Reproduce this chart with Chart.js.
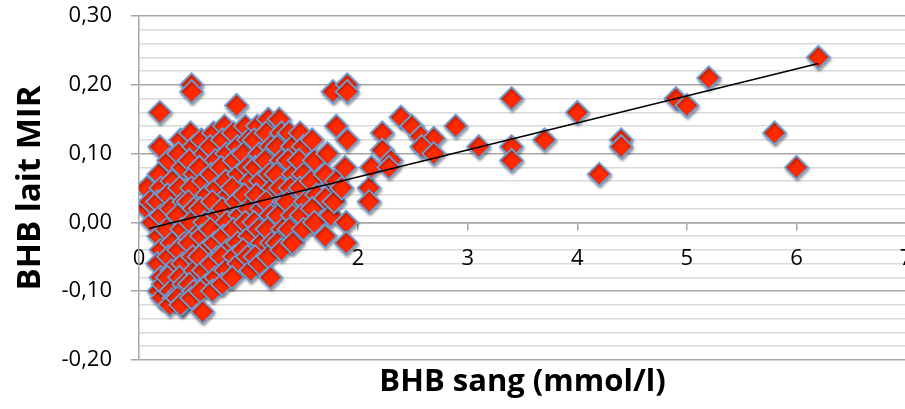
<!DOCTYPE html>
<html><head><meta charset="utf-8">
<script src="https://cdn.jsdelivr.net/npm/chart.js@4/dist/chart.umd.min.js"></script>
<style>html,body{margin:0;padding:0;overflow:hidden;background:#fff;width:905px;height:409px}canvas{display:block}</style>
</head><body>
<canvas id="c" width="930" height="409"></canvas>
<script>
// BHB sang (mmol/l) – x values
const bloodBHB = [
0.07,0.07,0.10,0.12,
0.19,0.19,0.18,0.20,0.17,0.20,0.18,0.20,0.17,0.20,0.18,0.21,0.22,
0.27,0.30,0.26,0.29,0.25,0.30,0.27,0.30,0.26,0.29,0.32,0.28,
0.38,0.36,0.40,0.37,0.41,0.35,0.39,0.42,0.36,0.40,0.37,0.41,0.35,0.40,0.38,
0.48,0.48,0.47,0.50,0.46,0.51,0.48,0.45,0.50,0.47,0.52,0.46,0.49,0.51,0.46,0.50,0.48,
0.57,0.60,0.55,0.59,0.62,0.56,0.60,0.57,0.61,0.55,0.59,0.62,0.56,0.58,
0.68,0.65,0.70,0.66,0.71,0.67,0.72,0.65,0.69,0.72,0.66,0.70,0.67,
0.78,0.76,0.80,0.75,0.79,0.82,0.76,0.80,0.77,0.81,0.75,0.79,0.76,
0.89,0.86,0.90,0.87,0.91,0.85,0.89,0.92,0.86,0.90,0.87,0.91,0.85,
0.97,1.00,0.95,0.99,1.02,0.96,1.00,0.97,1.01,0.95,0.99,1.02,
1.08,1.05,1.10,1.06,1.11,1.07,1.12,1.05,1.09,1.12,1.06,1.10,
1.18,1.16,1.20,1.15,1.19,1.22,1.16,1.20,1.17,1.21,1.18,1.20,
1.28,1.30,1.26,1.30,1.25,1.29,1.32,1.27,1.31,1.26,1.30,
1.37,1.40,1.36,1.41,1.38,1.35,1.40,1.37,1.40,
1.47,1.50,1.46,1.50,1.47,1.52,1.48,1.50,
1.58,1.60,1.57,1.62,1.58,1.60,
1.72,1.70,1.73,1.70,1.75,1.70,1.80,1.77,1.80,1.78,
1.90,1.90,1.90,1.88,1.89,1.89,1.85,
2.10,2.10,2.12,2.22,2.22,2.30,2.28,
2.39,2.49,2.57,2.69,2.58,2.69,2.89,3.10,3.40,3.40,3.40,3.70,4.00,4.20,4.40,4.40,4.90,5.00,5.20,5.80,6.00,6.20
];
// BHB lait MIR – y values
const milkBHB = [
0.05,0.02,0.03,0.00,
0.16,0.11,0.07,0.05,0.03,0.01,-0.02,-0.04,-0.06,-0.08,-0.10,-0.11,-0.09,
0.09,0.06,0.04,0.02,-0.01,-0.03,-0.05,-0.07,-0.08,-0.10,-0.11,-0.12,
0.12,0.10,0.08,0.05,0.03,0.01,-0.01,-0.03,-0.04,-0.06,-0.08,-0.09,-0.11,-0.12,-0.12,
0.20,0.19,0.13,0.11,0.09,0.07,0.05,0.03,0.02,0.00,-0.02,-0.03,-0.05,-0.07,-0.09,-0.10,-0.11,
0.12,0.10,0.08,0.06,0.04,0.02,0.00,-0.02,-0.04,-0.05,-0.07,-0.09,-0.10,-0.13,
0.13,0.11,0.09,0.07,0.05,0.03,0.01,-0.01,-0.03,-0.05,-0.06,-0.08,-0.10,
0.14,0.12,0.10,0.08,0.06,0.04,0.02,0.00,-0.02,-0.04,-0.05,-0.07,-0.09,
0.17,0.13,0.11,0.09,0.07,0.05,0.03,0.01,-0.01,-0.03,-0.05,-0.06,-0.08,
0.14,0.12,0.10,0.08,0.06,0.04,0.02,0.00,-0.02,-0.04,-0.05,-0.07,
0.14,0.12,0.10,0.08,0.06,0.04,0.02,0.00,-0.01,-0.03,-0.05,-0.06,
0.15,0.13,0.11,0.09,0.07,0.05,0.03,0.01,-0.01,-0.03,-0.05,-0.08,
0.15,0.13,0.11,0.09,0.07,0.05,0.03,0.01,-0.01,-0.03,-0.04,
0.13,0.11,0.09,0.07,0.05,0.03,0.01,-0.01,-0.03,
0.13,0.11,0.09,0.07,0.05,0.03,0.01,-0.01,
0.12,0.09,0.06,0.04,0.02,0.00,
0.10,0.07,0.04,0.035,0.01,-0.02,0.14,0.19,0.06,0.03,
0.20,0.19,0.12,0.08,0.00,-0.03,0.05,
0.05,0.03,0.08,0.13,0.105,0.09,0.08,
0.153,0.14,0.125,0.122,0.11,0.10,0.14,0.11,0.18,0.11,0.09,0.12,0.16,0.07,0.12,0.11,0.18,0.17,0.21,0.13,0.08,0.24
];
// Linear trend line end points
const trendX = [0.09, 6.2];
const trendY = [-0.009, 0.231];
// Axis tick labels
const xTickValues = [0, 1, 2, 3, 4, 5, 6, 7];
const xTickLabels = ['0', '1', '2', '3', '4', '5', '6', '7'];
const yTickValues = [-0.2, -0.1, 0, 0.1, 0.2, 0.3];
const yTickLabels = ['-0,20', '-0,10', '0,00', '0,10', '0,20', '0,30'];

const isMajorY = v => yTickValues.some(t => Math.abs(t - v) < 1e-6);
const majorColor = '#a6a6a6';
const minorColor = '#d9d9d9';

Chart.defaults.font.family = "'Open Sans', sans-serif";
Chart.defaults.color = '#000';

// soft drop shadow under the markers (Excel-like)
const markerShadow = {
  id: 'markerShadow',
  beforeDatasetDraw(chart, args) {
    if (args.index !== 1) return;
    const ctx = chart.ctx;
    ctx.save();
    ctx.shadowColor = 'rgba(0,0,0,0.35)';
    ctx.shadowBlur = 3;
    ctx.shadowOffsetX = 1;
    ctx.shadowOffsetY = 2;
  },
  afterDatasetDraw(chart, args) {
    if (args.index !== 1) return;
    chart.ctx.restore();
  }
};

new Chart(document.getElementById('c'), {
  type: 'scatter',
  plugins: [markerShadow],
  data: {
    datasets: [
      {
        type: 'line',
        data: trendX.map((x, i) => ({x, y: trendY[i]})),
        borderColor: '#000',
        borderWidth: 1.6,
        pointRadius: 0,
        fill: false,
        xAxisID: 'x', yAxisID: 'y'
      },
      {
        data: bloodBHB.map((x, i) => ({x, y: milkBHB[i]})),
        pointStyle: 'rectRot',
        pointRadius: 11.5,
        backgroundColor: '#ff2a00',
        borderColor: '#6e9ed6',
        borderWidth: 1.8,
        xAxisID: 'x', yAxisID: 'y'
      }
    ]
  },
  options: {
    responsive: false,
    devicePixelRatio: 1,
    animation: false,
    layout: { padding: { left: 0, top: 0, right: 24, bottom: 0 } },
    plugins: { legend: { display: false }, tooltip: { enabled: false } },
    scales: {
      x: {
        type: 'linear',
        position: { y: 0 },
        min: 0, max: 7,
        afterBuildTicks: s => { s.ticks = xTickValues.map(v => ({value: v})); },
        afterFit: s => { s.height = 0; },
        ticks: {
          callback: (v) => { const i = xTickValues.indexOf(v); return i >= 0 ? xTickLabels[i] : ''; },
          font: { size: 22 }, padding: 16, maxRotation: 0, autoSkip: false
        },
        grid: { drawOnChartArea: false, tickLength: 7, color: majorColor, lineWidth: 1.5 },
        border: { display: true, color: majorColor, width: 1.5 }
      },
      xTitle: {
        type: 'linear', axis: 'x', position: 'bottom',
        min: 0, max: 7,
        grid: { display: false, drawTicks: false },
        border: { display: false },
        ticks: { display: false },
        title: {
          display: true, text: 'BHB sang (mmol/l)',
          font: { size: 31, weight: 'bold' },
          padding: { top: 4, bottom: 8 }
        }
      },
      y: {
        type: 'linear',
        min: -0.2, max: 0.3,
        afterFit: s => { s.width = 139; s.paddingTop = 16; s.paddingBottom = 0; },
        ticks: {
          stepSize: 0.02, autoSkip: false,
          callback: (v) => { const i = yTickValues.findIndex(t => Math.abs(t - v) < 1e-6); return i >= 0 ? yTickLabels[i] : ''; },
          font: { size: 22 }, padding: 19
        },
        grid: {
          color: c => isMajorY(c.tick.value) ? majorColor : minorColor,
          tickColor: c => isMajorY(c.tick.value) ? majorColor : 'rgba(0,0,0,0)',
          lineWidth: 1.5, tickLength: 8
        },
        border: { display: true, color: majorColor, width: 1.5 },
        title: {
          display: true, text: 'BHB lait MIR',
          font: { size: 33, weight: 'bold' },
          padding: { top: 11, bottom: 0 }
        }
      }
    }
  }
});
</script>
</body></html>
